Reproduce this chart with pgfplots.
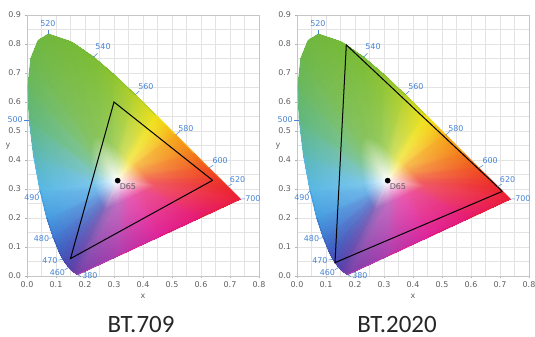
\documentclass[border=0pt]{standalone}
\usepackage{fontspec}
\setmainfont{DejaVu Sans}
\newfontfamily\titlefont{Carlito}
\usepackage{pgfplots}
\usepackage{pgfplotstable}
\pgfplotsset{compat=1.18}

\definecolor{w380}{rgb}{0.46,0.26,0.66}
\definecolor{w450}{rgb}{0.38,0.25,0.66}
\definecolor{w460}{rgb}{0.33,0.27,0.68}
\definecolor{w470}{rgb}{0.27,0.32,0.72}
\definecolor{w475}{rgb}{0.25,0.38,0.76}
\definecolor{w480}{rgb}{0.25,0.48,0.82}
\definecolor{w485}{rgb}{0.28,0.62,0.88}
\definecolor{w490}{rgb}{0.35,0.72,0.90}
\definecolor{w495}{rgb}{0.36,0.72,0.72}
\definecolor{w500}{rgb}{0.38,0.72,0.50}
\definecolor{w505}{rgb}{0.41,0.72,0.38}
\definecolor{w510}{rgb}{0.43,0.72,0.30}
\definecolor{w515}{rgb}{0.44,0.72,0.26}
\definecolor{w520}{rgb}{0.45,0.72,0.24}
\definecolor{w530}{rgb}{0.46,0.73,0.22}
\definecolor{w540}{rgb}{0.49,0.74,0.21}
\definecolor{w550}{rgb}{0.56,0.77,0.19}
\definecolor{w560}{rgb}{0.72,0.82,0.16}
\definecolor{w570}{rgb}{0.93,0.88,0.10}
\definecolor{w575}{rgb}{0.96,0.80,0.10}
\definecolor{w580}{rgb}{0.96,0.66,0.10}
\definecolor{w590}{rgb}{0.95,0.48,0.10}
\definecolor{w600}{rgb}{0.94,0.32,0.12}
\definecolor{w610}{rgb}{0.93,0.22,0.15}
\definecolor{w620}{rgb}{0.92,0.16,0.17}
\definecolor{w640}{rgb}{0.92,0.13,0.20}
\definecolor{w700}{rgb}{0.92,0.12,0.22}
\definecolor{pA}{rgb}{0.90,0.10,0.45}
\definecolor{pB}{rgb}{0.87,0.14,0.60}
\definecolor{pC}{rgb}{0.68,0.24,0.68}
\definecolor{wlc}{RGB}{72,132,212}
\definecolor{tickc}{RGB}{95,95,95}

% rows: white point / inner ring / spectral locus + line of purples
\pgfplotstableread{
x y z c
0.3127 0.3290 0 color=white
0.3127 0.3290 0 color=white
0.3127 0.3290 0 color=white
0.3127 0.3290 0 color=white
0.3127 0.3290 0 color=white
0.3127 0.3290 0 color=white
0.3127 0.3290 0 color=white
0.3127 0.3290 0 color=white
0.3127 0.3290 0 color=white
0.3127 0.3290 0 color=white
0.3127 0.3290 0 color=white
0.3127 0.3290 0 color=white
0.3127 0.3290 0 color=white
0.3127 0.3290 0 color=white
0.3127 0.3290 0 color=white
0.3127 0.3290 0 color=white
0.3127 0.3290 0 color=white
0.3127 0.3290 0 color=white
0.3127 0.3290 0 color=white
0.3127 0.3290 0 color=white
0.3127 0.3290 0 color=white
0.3127 0.3290 0 color=white
0.3127 0.3290 0 color=white
0.3127 0.3290 0 color=white
0.3127 0.3290 0 color=white
0.3127 0.3290 0 color=white
0.3127 0.3290 0 color=white
0.3127 0.3290 0 color=white
0.3127 0.3290 0 color=white
0.3127 0.3290 0 color=white
0.3127 0.3290 0 color=white
0.2711 0.2318 0 color=w380!78!white
0.2659 0.2356 0 color=w450!78!white
0.2621 0.2392 0 color=w460!78!white
0.2561 0.2476 0 color=w470!78!white
0.2518 0.2563 0 color=w475!78!white
0.2463 0.2701 0 color=w480!78!white
0.2395 0.2905 0 color=w485!78!white
0.2325 0.3188 0 color=w490!78!white
0.2259 0.3541 0 color=w495!78!white
0.2214 0.3918 0 color=w500!80!white
0.2201 0.4267 0 color=w505!82!white
0.2231 0.4554 0 color=w510!84!white
0.2306 0.4739 0 color=w515!84!white
0.2412 0.4804 0 color=w520!84!white
0.2653 0.4721 0 color=w530!82!white
0.2878 0.4566 0 color=w540!80!white
0.3094 0.4380 0 color=w550!76!white
0.3308 0.4177 0 color=w560!72!white
0.3521 0.3967 0 color=w570!72!white
0.3625 0.3864 0 color=w575!72!white
0.3726 0.3763 0 color=w580!75!white
0.3915 0.3576 0 color=w590!75!white
0.4070 0.3421 0 color=w600!75!white
0.4186 0.3305 0 color=w610!75!white
0.4263 0.3228 0 color=w620!75!white
0.4346 0.3146 0 color=w640!75!white
0.4393 0.3099 0 color=w700!75!white
0.3973 0.2904 0 color=pA!75!white
0.3552 0.2709 0 color=pB!75!white
0.3132 0.2513 0 color=pC!75!white
0.2711 0.2318 0 color=w380!78!white
0.1741 0.0050 0 color=w380
0.1566 0.0177 0 color=w450
0.1440 0.0297 0 color=w460
0.1241 0.0578 0 color=w470
0.1096 0.0868 0 color=w475
0.0913 0.1327 0 color=w480
0.0687 0.2007 0 color=w485
0.0454 0.2950 0 color=w490
0.0235 0.4127 0 color=w495
0.0082 0.5384 0 color=w500
0.0039 0.6548 0 color=w505
0.0139 0.7502 0 color=w510
0.0389 0.8120 0 color=w515
0.0743 0.8338 0 color=w520
0.1547 0.8059 0 color=w530
0.2296 0.7543 0 color=w540
0.3016 0.6923 0 color=w550
0.3731 0.6245 0 color=w560
0.4441 0.5547 0 color=w570
0.4788 0.5202 0 color=w575
0.5125 0.4866 0 color=w580
0.5752 0.4242 0 color=w590
0.6270 0.3725 0 color=w600
0.6658 0.3340 0 color=w610
0.6915 0.3083 0 color=w620
0.7190 0.2809 0 color=w640
0.7347 0.2653 0 color=w700
0.5946 0.2002 0 color=pA
0.4544 0.1352 0 color=pB
0.3143 0.0701 0 color=pC
0.1741 0.0050 0 color=w380
}\gamut

% spectral locus and line of purples (outline of the diagram)
\pgfplotstableread{
x y z c
0.1741 0.0050 0 color=w380
0.1566 0.0177 0 color=w450
0.1440 0.0297 0 color=w460
0.1241 0.0578 0 color=w470
0.1096 0.0868 0 color=w475
0.0913 0.1327 0 color=w480
0.0687 0.2007 0 color=w485
0.0454 0.2950 0 color=w490
0.0235 0.4127 0 color=w495
0.0082 0.5384 0 color=w500
0.0039 0.6548 0 color=w505
0.0139 0.7502 0 color=w510
0.0389 0.8120 0 color=w515
0.0743 0.8338 0 color=w520
0.1547 0.8059 0 color=w530
0.2296 0.7543 0 color=w540
0.3016 0.6923 0 color=w550
0.3731 0.6245 0 color=w560
0.4441 0.5547 0 color=w570
0.4788 0.5202 0 color=w575
0.5125 0.4866 0 color=w580
0.5752 0.4242 0 color=w590
0.6270 0.3725 0 color=w600
0.6658 0.3340 0 color=w610
0.6915 0.3083 0 color=w620
0.7190 0.2809 0 color=w640
0.7347 0.2653 0 color=w700
0.5946 0.2002 0 color=pA
0.4544 0.1352 0 color=pB
0.3143 0.0701 0 color=pC
0.1741 0.0050 0 color=w380
}\locus

\pgfplotsset{
  ciebase/.style={
    scale only axis, width=232bp, height=261bp,
    xmin=0, xmax=0.8, ymin=0, ymax=0.9,
  },
  cie2d/.style={
    ciebase,
    xtick={0,0.1,0.2,0.3,0.4,0.5,0.6,0.7,0.8},
    ytick={0,0.1,0.2,0.3,0.4,0.5,0.6,0.7,0.8,0.9},
    minor xtick={0.05,0.15,0.25,0.35,0.45,0.55,0.65,0.75},
    minor ytick={0.05,0.15,0.25,0.35,0.45,0.55,0.65,0.75,0.85},
    grid=both,
    major grid style={draw=gray!22, line width=0.5bp},
    minor grid style={draw=gray!22, line width=0.5bp},
    axis line style={draw=gray!45, line width=0.5bp},
    every tick/.style={draw=gray!60, line width=0.5bp},
    xtick pos=bottom, ytick pos=left,
    tick align=outside, major tick length=2.5bp, minor tick length=0bp,
    tick label style={font=\fontsize{8}{9}\selectfont, text=tickc},
    /pgf/number format/fixed,
    /pgf/number format/fixed zerofill,
    /pgf/number format/precision=1,
    /pgf/number format/assume math mode=true,
  },
  cie3d/.style={
    ciebase, view={0}{90}, zmin=-1, zmax=1,
    hide axis, clip=false,
  },
  gamutsurf/.style={surf, shader=interp, mesh/color input=explicit,
    mesh/rows=3, mesh/cols=31},
  gamutedge/.style={mesh, shader=flat corner, mesh/color input=explicit,
    mesh/rows=1, mesh/cols=31, line width=1.2bp, line join=round},
}

\newcommand\wl[7]{%
  \draw[wlc, line width=0.5bp] (axis cs:#1,#2,0) -- (axis cs:#3,#4,0);
  \node[text=wlc, font=\fontsize{8}{9}\selectfont, inner sep=0pt] at (axis cs:#5,#6,0) {#7};}

\newcommand\wavelabels{%
  \wl{0.0743}{0.8338}{0.0743}{0.850}{0.072}{0.869}{520}
  \wl{0.2296}{0.7543}{0.243}{0.768}{0.262}{0.790}{540}
  \wl{0.3731}{0.6245}{0.387}{0.638}{0.410}{0.652}{560}
  \wl{0.5125}{0.4866}{0.527}{0.498}{0.548}{0.510}{580}
  \wl{0.6270}{0.3725}{0.642}{0.382}{0.666}{0.397}{600}
  \wl{0.6915}{0.3083}{0.706}{0.317}{0.726}{0.331}{620}
  \wl{0.7347}{0.2653}{0.752}{0.266}{0.779}{0.266}{700}
  \wl{0.0082}{0.5384}{-0.010}{0.5384}{-0.041}{0.538}{500}
  \wl{0.0454}{0.2950}{0.036}{0.284}{0.017}{0.270}{490}
  \wl{0.0913}{0.1327}{0.077}{0.130}{0.050}{0.128}{480}
  \wl{0.1241}{0.0578}{0.108}{0.055}{0.079}{0.052}{470}
  \wl{0.1440}{0.0297}{0.130}{0.021}{0.105}{0.013}{460}
  \wl{0.1741}{0.0050}{0.186}{-0.002}{0.217}{0.000}{380}
  \node[text=tickc, font=\fontsize{8}{9}\selectfont] at (axis cs:0.348,0.310,0) {D65};
  \node[text=tickc, font=\fontsize{8}{9}\selectfont] at (axis cs:0.400,-0.070,0) {x};
  \node[text=tickc, font=\fontsize{8}{9}\selectfont] at (axis cs:-0.066,0.448,0) {y};
}

\begin{document}
\begin{tikzpicture}
\useasboundingbox (0,0) rectangle (535bp,337bp);

% left: grid axis, then diagram on top
\begin{axis}[cie2d, at={(27bp,61bp)}, anchor=south west]
  \addplot[draw=none] coordinates {(0,0)};
\end{axis}
\begin{axis}[cie3d, at={(27bp,61bp)}, anchor=south west]
  \addplot3[gamutsurf] table[x=x, y=y, z=z, meta=c] {\gamut};
  \addplot3[gamutedge] table[x=x, y=y, z=z, meta=c] {\locus};
  \addplot3[black, line width=1bp, line join=miter] coordinates
    {(0.64,0.33,0) (0.30,0.60,0) (0.15,0.06,0) (0.64,0.33,0)};
  \addplot3[only marks, mark=*, mark size=2.6bp, black] coordinates {(0.3127,0.3290,0)};
  \wavelabels
\end{axis}

% right
\begin{axis}[cie2d, at={(297bp,61bp)}, anchor=south west]
  \addplot[draw=none] coordinates {(0,0)};
\end{axis}
\begin{axis}[cie3d, at={(297bp,61bp)}, anchor=south west]
  \addplot3[gamutsurf] table[x=x, y=y, z=z, meta=c] {\gamut};
  \addplot3[gamutedge] table[x=x, y=y, z=z, meta=c] {\locus};
  \addplot3[black, line width=1bp, line join=miter] coordinates
    {(0.708,0.292,0) (0.170,0.797,0) (0.131,0.046,0) (0.708,0.292,0)};
  \addplot3[only marks, mark=*, mark size=2.6bp, black] coordinates {(0.3127,0.3290,0)};
  \wavelabels
\end{axis}

\node[anchor=base, font=\titlefont\fontsize{25}{30}\selectfont, text=black!85] at (141bp,5bp) {BT.709};
\node[anchor=base, font=\titlefont\fontsize{25}{30}\selectfont, text=black!85] at (397bp,5bp) {BT.2020};
\end{tikzpicture}
\end{document}
